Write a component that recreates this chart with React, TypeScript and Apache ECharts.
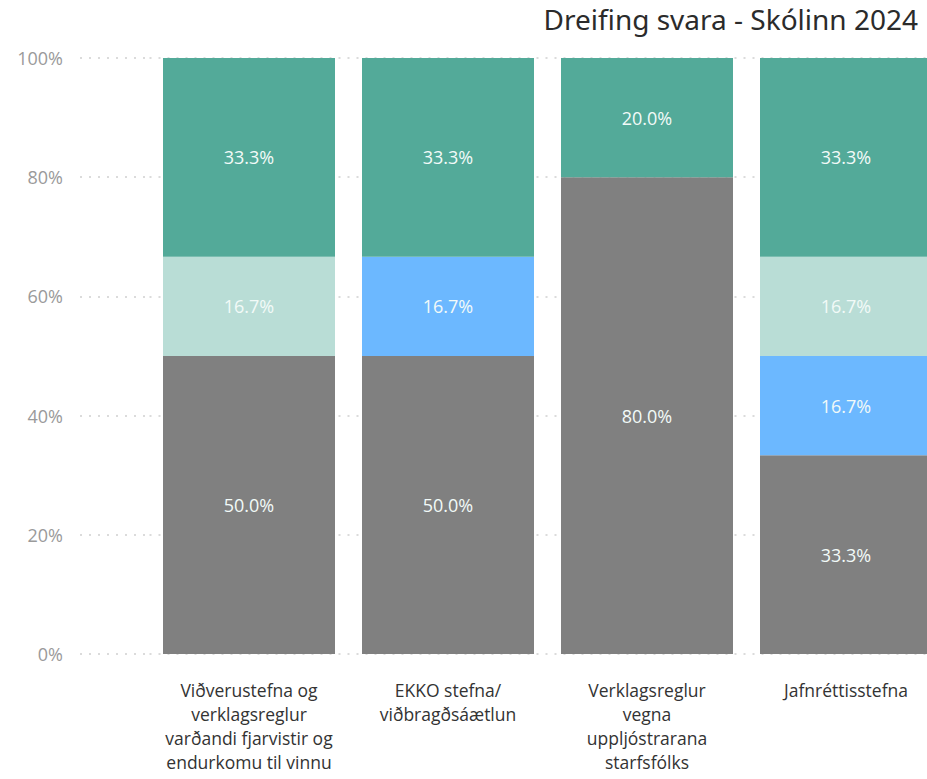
import React, { useEffect, useRef } from "react";
import * as echarts from "echarts";

const categories = [
  "Viðverustefna og\nverklagsreglur\nvarðandi fjarvistir og\nendurkomu til vinnu",
  "EKKO stefna/\nviðbragðsáætlun",
  "Verklagsreglur\nvegna\nuppljóstrarana\nstarfsfólks",
  "Jafnréttisstefna",
];
const grayValues = [50, 50, 80, 33.33];
const blueValues = [0, 16.67, 0, 16.67];
const lightTealValues = [16.67, 0, 0, 16.67];
const tealValues = [33.33, 33.33, 20, 33.33];

const seriesDefs = [
  { name: "Gray", values: grayValues, color: "#808080" },
  { name: "Blue", values: blueValues, color: "#6CB8FF" },
  { name: "LightTeal", values: lightTealValues, color: "#B9DDD6" },
  { name: "Teal", values: tealValues, color: "#53AA99" },
];

export default function App() {
  const ref = useRef<HTMLDivElement>(null);
  useEffect(() => {
    if (!ref.current) return;
    const chart = echarts.init(ref.current, undefined, { renderer: "svg" });
    const font = "Open Sans";
    const splitLine = { show: true, lineStyle: { color: "#cfcfcf", width: 1.5, type: [2, 7] } };
    chart.setOption({
      animation: false,
      backgroundColor: "#ffffff",
      title: {
        text: "Dreifing svara - Skólinn 2024",
        right: 37,
        top: 0,
        textStyle: { fontFamily: "Noto Sans", fontSize: 28, fontWeight: "normal", color: "#2b2b2b" },
      },
      grid: [
        { left: 149.5, top: 58, height: 596, width: 796 },
        { left: 80, top: 58, height: 596, width: 70 },
      ],
      xAxis: [
        {
          type: "category",
          gridIndex: 0,
          data: categories,
          axisLine: { show: false },
          axisTick: { show: false },
          axisLabel: {
            interval: 0,
            color: "#333333",
            fontFamily: font,
            fontSize: 17.5,
            lineHeight: 24,
            margin: 24,
          },
        },
        {
          type: "category",
          gridIndex: 1,
          data: [""],
          show: false,
        },
      ],
      yAxis: [
        {
          type: "value",
          gridIndex: 0,
          min: 0,
          max: 100,
          interval: 20,
          axisLine: { show: false },
          axisTick: { show: false },
          axisLabel: { show: false },
          splitLine,
        },
        {
          type: "value",
          gridIndex: 1,
          min: 0,
          max: 100,
          interval: 20,
          axisLine: { show: false },
          axisTick: { show: false },
          axisLabel: {
            formatter: "{value}%",
            color: "#9a9a9a",
            fontFamily: font,
            fontSize: 18,
            margin: 17,
          },
          splitLine,
        },
      ],
      series: seriesDefs.map((s) => ({
        name: s.name,
        type: "bar",
        stack: "total",
        xAxisIndex: 0,
        yAxisIndex: 0,
        barWidth: 172,
        itemStyle: { color: s.color },
        data: s.values,
        label: {
          show: true,
          position: "inside",
          color: "#F2FAF8",
          fontFamily: font,
          fontSize: 18,
          formatter: (p: any) => (p.value > 0 ? p.value.toFixed(1) + "%" : ""),
        },
      })),
    });
    return () => chart.dispose();
  }, []);
  return (
    <div
      style={{
        position: "fixed",
        left: 0,
        top: 0,
        width: 927,
        height: 779,
        overflow: "hidden",
        background: "#ffffff",
      }}
    >
      <div ref={ref} style={{ width: 960, height: 779 }} />
    </div>
  );
}
